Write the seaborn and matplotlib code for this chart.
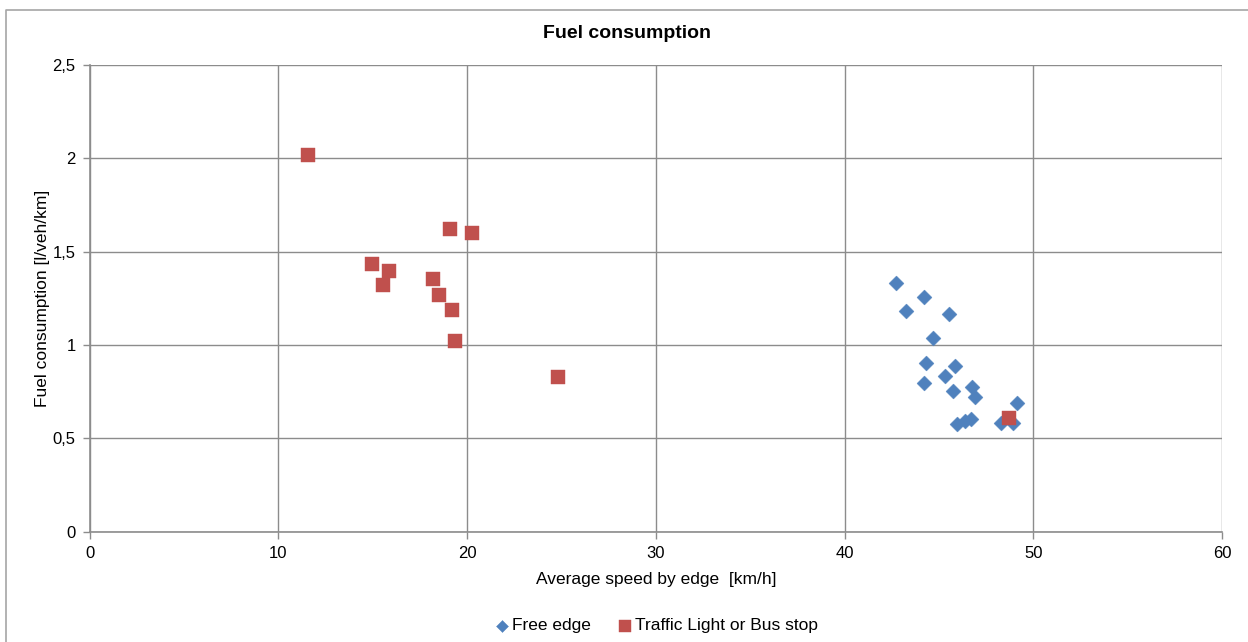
import matplotlib
matplotlib.use("Agg")
import matplotlib.pyplot as plt
from matplotlib.lines import Line2D
from matplotlib.ticker import FuncFormatter
import seaborn as sns
import pandas as pd

# Edges without a control element
free_speed = [42.72, 44.22, 43.23, 45.53, 44.68, 44.32, 45.85, 45.33, 44.23,
              45.75, 46.75, 46.89, 49.13, 45.95, 46.39, 46.69, 48.30, 48.92]
free_fuel = [1.332, 1.255, 1.180, 1.168, 1.037, 0.902, 0.886, 0.832, 0.798,
             0.755, 0.775, 0.722, 0.691, 0.575, 0.593, 0.604, 0.581, 0.581]

# Edges with a traffic light or a bus stop
stop_speed = [11.59, 19.12, 20.26, 14.95, 15.85, 15.56, 18.21, 18.50, 19.19,
              19.35, 24.81, 48.72]
stop_fuel = [2.018, 1.621, 1.598, 1.435, 1.398, 1.321, 1.352, 1.270, 1.189,
             1.020, 0.830, 0.607]

series_names = ["Free edge", "Traffic Light or Bus stop"]
x_ticks = [0, 10, 20, 30, 40, 50, 60]
y_ticks = [0, 0.5, 1, 1.5, 2, 2.5]

df = pd.DataFrame({
    "speed": free_speed + stop_speed,
    "fuel": free_fuel + stop_fuel,
    "type": [series_names[0]] * len(free_speed) + [series_names[1]] * len(stop_speed),
})

sns.set_style("white")
plt.rcParams["font.family"] = ["Liberation Sans", "DejaVu Sans"]
plt.rcParams["text.color"] = "black"
plt.rcParams["axes.labelcolor"] = "black"

fig = plt.figure(figsize=(12.48, 6.42), dpi=100)
ax = fig.add_axes([0.0718, 0.1718, 0.9074, 0.727])

# Outer chart frame (left and top edges)
frame_x = [5.5 / 1248, 5.5 / 1248, 1.0]
frame_y = [0.0, 1 - 9.5 / 642, 1 - 9.5 / 642]
fig.lines.append(Line2D(frame_x, frame_y, transform=fig.transFigure,
                        color="#a6a6a6", linewidth=1.2))

palette = {series_names[0]: "#4F81BD", series_names[1]: "#C0504D"}
markers = {series_names[0]: "D", series_names[1]: "s"}
sizes = {series_names[0]: 58, series_names[1]: 110}

for name in series_names:
    sub = df[df["type"] == name]
    sns.scatterplot(data=sub, x="speed", y="fuel", ax=ax, color=palette[name],
                    marker=markers[name], s=sizes[name], linewidth=0.3,
                    edgecolor=palette[name], label=name, zorder=3)

ax.set_xlim(0, 60)
ax.set_ylim(0, 2.5)
ax.set_xticks(x_ticks)
ax.set_yticks(y_ticks)
comma = FuncFormatter(lambda v, p: (f"{v:g}").replace(".", ","))
ax.xaxis.set_major_formatter(comma)
ax.yaxis.set_major_formatter(comma)

ax.grid(True, color="#8c8c8c", linewidth=1.0)
ax.set_axisbelow(True)
for side in ["top", "right"]:
    ax.spines[side].set_visible(False)
for side in ["left", "bottom"]:
    ax.spines[side].set_color("#8c8c8c")
    ax.spines[side].set_linewidth(1.2)
ax.tick_params(axis="both", which="major", length=5, width=1, color="#8c8c8c",
               labelcolor="black", direction="out", labelsize=12, pad=5,
               bottom=True, left=True)

ax.set_xlabel("Average speed by edge  [km/h]", fontsize=12.5, labelpad=8)
ax.set_ylabel("Fuel consumption [l/veh/km]", fontsize=12.5, labelpad=2)
fig.suptitle("Fuel consumption", x=0.5024, y=1 - 33 / 642, va="center",
             fontsize=14, fontweight="bold")

leg = ax.legend(loc="upper center", bbox_to_anchor=(0.5, -0.152), ncol=2,
                frameon=False, fontsize=12.5, handletextpad=0.05,
                columnspacing=1.5, markerscale=0.8, handlelength=1.0)
for t in leg.get_texts():
    t.set_color("black")

fig.savefig("out.png", dpi=100)
